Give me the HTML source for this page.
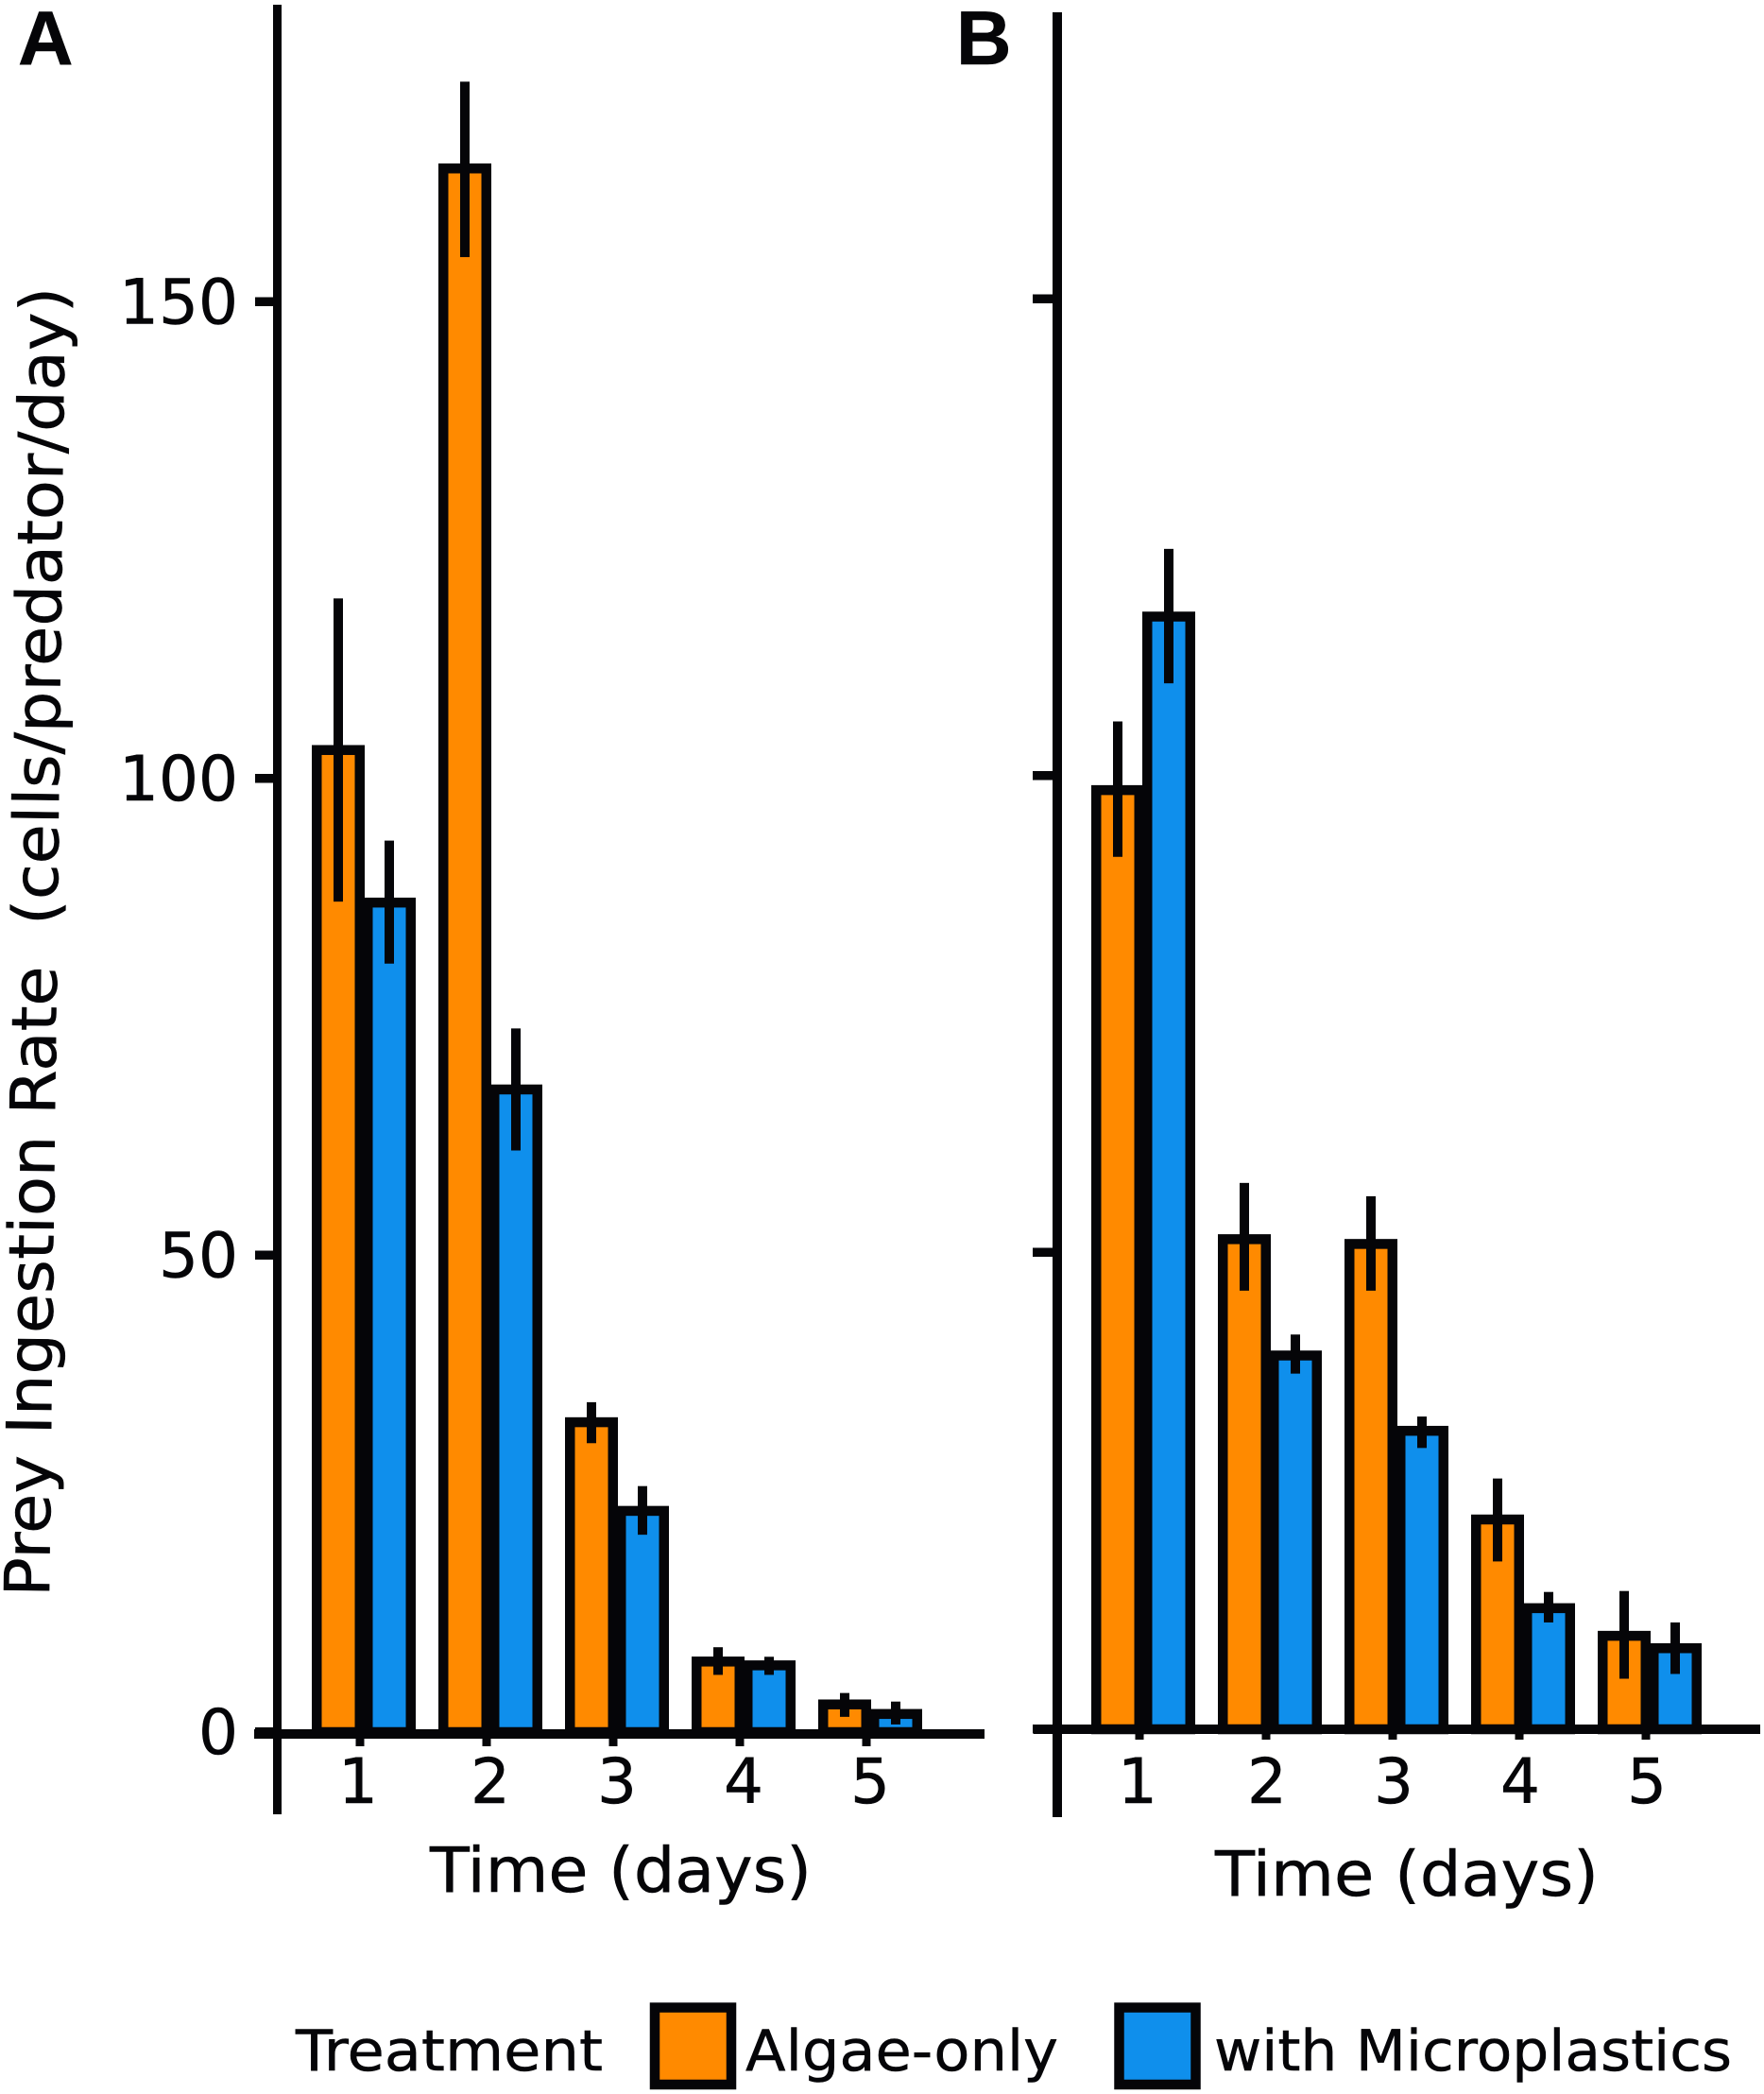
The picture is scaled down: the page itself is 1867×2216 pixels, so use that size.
<!DOCTYPE html>
<html lang="en">
<head>
<meta charset="utf-8">
<title>Prey Ingestion Rate</title>
<style>
html,body{margin:0;padding:0;background:#fff;width:1867px;height:2216px;overflow:hidden}
svg{display:block}
text{font-family:"DejaVu Sans","Liberation Sans",sans-serif;fill:#050508;white-space:pre;stroke:#050508;stroke-width:0.5}
</style>
</head>
<body>
<svg id="chart" xmlns="http://www.w3.org/2000/svg" width="1867" height="2216" viewBox="0 0 1867 2216">
  <rect x="0" y="0" width="1867" height="2216" fill="#ffffff"/>
  <text x="19" y="68" style="font-family:'Liberation Sans',sans-serif;font-weight:bold;font-size:81px">A</text>
  <text x="1012" y="68" style="font-family:'Liberation Sans',sans-serif;font-weight:bold;font-size:81px">B</text>
  <text transform="translate(52,1690) rotate(-89.31)" x="0" y="0" font-size="66" textLength="1386" lengthAdjust="spacingAndGlyphs">Prey Ingestion Rate  (cells/predator/day)</text>
  <text x="455" y="2002" font-size="66" textLength="404" lengthAdjust="spacingAndGlyphs">Time (days)</text>
  <text x="1286" y="2006" font-size="66" textLength="406" lengthAdjust="spacingAndGlyphs">Time (days)</text>
  <g>
    <text x="313" y="2191" font-size="60" textLength="325" lengthAdjust="spacingAndGlyphs">Treatment</text>
    <rect x="693" y="2124.5" width="81" height="81.5" fill="#ff8a00" stroke="#050508" stroke-width="10.5"/>
    <text x="789" y="2191" font-size="60" textLength="331" lengthAdjust="spacingAndGlyphs">Algae-only</text>
    <rect x="1184.5" y="2124.5" width="81" height="81.5" fill="#0f8fec" stroke="#050508" stroke-width="10.5"/>
    <text x="1285" y="2191" font-size="60" textLength="548" lengthAdjust="spacingAndGlyphs">with Microplastics</text>
  </g>
  <g id="panel-a"></g>
  <g id="panel-b"></g>
</svg>
<script>
const days = ["1", "2", "3", "4", "5"];
const yTickValues = [0, 50, 100, 150];

const algaeMeanA = [103, 164, 32.5, 7.4, 2.9];
const algaeHighA = [118.9, 173.1, 34.6, 8.9, 4.1];
const algaeLowA = [87.1, 154.7, 30.3, 6.0, 1.6];
const plasticMeanA = [87, 67.4, 23.2, 7.0, 1.9];
const plasticHighA = [93.5, 73.8, 25.8, 7.9, 3.2];
const plasticLowA = [80.6, 61, 20.7, 6.0, 0.8];

const algaeMeanB = [98.5, 51.4, 50.9, 22, 9.8];
const algaeHighB = [105.7, 57.3, 55.9, 26.3, 14.5];
const algaeLowB = [91.5, 46, 46, 17.6, 5.3];
const plasticMeanB = [116.7, 39.2, 31.3, 12.7, 8.5];
const plasticHighB = [123.8, 41.4, 32.8, 14.4, 11.2];
const plasticLowB = [109.7, 37.3, 29.5, 11.2, 5.8];

const INK = "#050508";
const ORANGE = "#ff8a00";
const BLUE = "#0f8fec";
const NS = "http://www.w3.org/2000/svg";
const PX_PER_UNIT = 10.09;
const BAND = 134;
const BAR_OFFSET = 27;
const BAR_WIDTH = 45.5;

function makeAxis(zeroY, firstGroupX) {
  return {
    y: function (v) { return zeroY - v * PX_PER_UNIT; },
    x: function (i) { return firstGroupX + i * BAND; }
  };
}

function shape(parent, tag, attrs) {
  const el = document.createElementNS(NS, tag);
  for (const k in attrs) el.setAttribute(k, attrs[k]);
  parent.appendChild(el);
  return el;
}

function drawPanel(parent, cfg) {
  const ax = makeAxis(cfg.zeroY, cfg.groupX);

  const yAxis = shape(parent, "rect", { x: cfg.axisX - cfg.axisW / 2, y: cfg.axisTop, width: cfg.axisW, height: cfg.axisBottom - cfg.axisTop, fill: INK });
  
  

  yTickValues.forEach(function (v) {
    const t = shape(parent, "rect", { x: cfg.yTickX, y: ax.y(v) - 5, width: cfg.axisX - cfg.yTickX, height: 9.5, fill: INK });
    
    
    if (cfg.showYLabels) {
      const lab = shape(parent, "text", { x: 252, y: ax.y(v) + 23, "text-anchor": "end", "font-size": 66 });
      lab.textContent = String(v);
      
      
    }
  });

  days.forEach(function (d, i) {
    const cx = ax.x(i);
    const tick = shape(parent, "rect", { x: cx - 4 - 4.5, y: cfg.axisLineY, width: 9, height: cfg.xTickLen, fill: INK });
    
    
    const labelX = cx + cfg.labelDx + (d === "1" ? cfg.oneDx : 0);
    const lab = shape(parent, "text", { x: labelX, y: 1908, "text-anchor": "middle", "font-size": 66 });
    lab.textContent = d;
    
    
  });

  function bars(mean, offset, color, label) {
    mean.forEach(function (v, i) {
      const cx = ax.x(i) + offset;
      const top = ax.y(v);
      const bar = shape(parent, "rect", { x: cx - BAR_WIDTH / 2, y: top, width: BAR_WIDTH, height: ax.y(0) - top, fill: color, stroke: INK, "stroke-width": 10.5 });
      
      
    });
  }
  function errors(high, low, offset, label) {
    high.forEach(function (v, i) {
      const cx = ax.x(i) + offset;
      const err = shape(parent, "rect", { x: cx - 5, y: ax.y(v), width: 10, height: ax.y(low[i]) - ax.y(v), fill: INK });
      
      
    });
  }

  bars(cfg.algae, -BAR_OFFSET, ORANGE, 'algae');
  bars(cfg.plastic, BAR_OFFSET, BLUE, 'microplastics');
  errors(cfg.algaeHigh, cfg.algaeLow, -BAR_OFFSET, 'algae');
  errors(cfg.plasticHigh, cfg.plasticLow, BAR_OFFSET, 'microplastics');

  const xAxis = shape(parent, "rect", { x: cfg.xLineStart, y: cfg.axisLineY - 5, width: cfg.xLineEnd - cfg.xLineStart, height: 10, fill: INK });
  
  
}

drawPanel(document.getElementById("panel-a"), {
  zeroY: 1833, groupX: 385, axisX: 293.5, axisW: 9, axisTop: 5, axisBottom: 1920,
  yTickX: 270, showYLabels: true, axisLineY: 1835, xLineStart: 269, xLineEnd: 1042, xTickLen: 13,
  labelDx: 0, oneDx: -6,
  algae: algaeMeanA, algaeHigh: algaeHighA, algaeLow: algaeLowA,
  plastic: plasticMeanA, plasticHigh: plasticHighA, plasticLow: plasticLowA
});

drawPanel(document.getElementById("panel-b"), {
  zeroY: 1830, groupX: 1210, axisX: 1119, axisW: 10, axisTop: 13, axisBottom: 1923,
  yTickX: 1093, showYLabels: false, axisLineY: 1830, xLineStart: 1094, xLineEnd: 1863, xTickLen: 11,
  labelDx: -3, oneDx: -3,
  algae: algaeMeanB, algaeHigh: algaeHighB, algaeLow: algaeLowB,
  plastic: plasticMeanB, plasticHigh: plasticHighB, plasticLow: plasticLowB
});
</script>
</body>
</html>
